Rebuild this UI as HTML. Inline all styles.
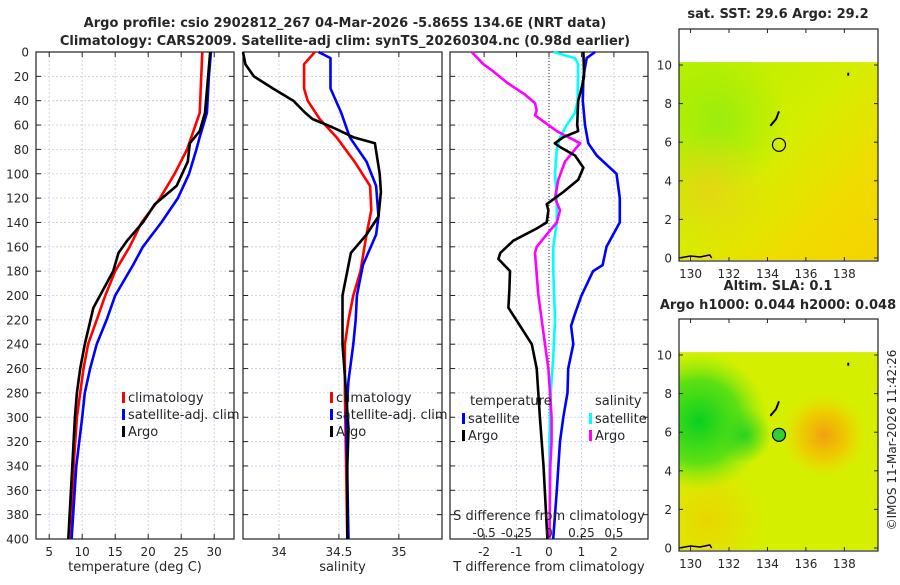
<!DOCTYPE html>
<html><head><meta charset="utf-8"><style>
body{margin:0;background:#fff}
svg text{font-family:"DejaVu Sans","Liberation Sans",sans-serif;fill:#262626}
</style></head><body>
<svg id="c" width="900" height="580" viewBox="0 0 900 580" xmlns="http://www.w3.org/2000/svg">
<defs>
<linearGradient id="sstg" x1="0" y1="0" x2="1" y2="1">
<stop offset="0" stop-color="#b4f000"/><stop offset="0.45" stop-color="#d4ee00"/><stop offset="0.75" stop-color="#f0dc00"/><stop offset="1" stop-color="#f4d400"/></linearGradient>
<radialGradient id="sstG" cx="0.2" cy="0.3" r="0.35"><stop offset="0" stop-color="#90ec10" stop-opacity="0.8"/><stop offset="1" stop-color="#90ec10" stop-opacity="0"/></radialGradient>
<radialGradient id="sstO" cx="0.15" cy="0.65" r="0.3"><stop offset="0" stop-color="#f0c820" stop-opacity="0.6"/><stop offset="1" stop-color="#f0c820" stop-opacity="0"/></radialGradient>
<radialGradient id="slaG" cx="0.1" cy="0.35" r="0.35"><stop offset="0" stop-color="#08d020"/><stop offset="0.6" stop-color="#40dc18" stop-opacity="0.8"/><stop offset="1" stop-color="#80e810" stop-opacity="0"/></radialGradient>
<radialGradient id="slaG2" cx="0.33" cy="0.42" r="0.14"><stop offset="0" stop-color="#20d020" stop-opacity="0.9"/><stop offset="1" stop-color="#40d820" stop-opacity="0"/></radialGradient>
<radialGradient id="slaO" cx="0.73" cy="0.42" r="0.22"><stop offset="0" stop-color="#f0a010"/><stop offset="0.5" stop-color="#f4c000" stop-opacity="0.8"/><stop offset="1" stop-color="#f0d800" stop-opacity="0"/></radialGradient>
<radialGradient id="slaY" cx="0.15" cy="0.85" r="0.3"><stop offset="0" stop-color="#f0d000" stop-opacity="0.8"/><stop offset="1" stop-color="#f0d000" stop-opacity="0"/></radialGradient>
</defs>
</svg>
<script>
// ---- data ----
const depthRed=[0,50,80,100,120,140,160,180,200,220,240,260,280,300,340,400];
const tempClim=[28.2,27.8,25.9,24,21.8,19,17.2,15,13.5,12.2,10.9,10.2,9.7,9.2,8.7,8.3];
const depthBlue=[0,20,50,70,80,100,120,140,160,175,200,220,240,260,280,300,340,400];
const tempSat=[29.5,29.2,28.9,27.8,27.3,26.2,24.5,22,19.2,17.7,15,13.7,12.2,11.2,10.4,10,9.1,8.4];
const depthArgoT=[0,50,65,75,90,110,125,140,155,165,180,210,240,260,280,300,340,400];
const tempArgo=[29.4,28.6,27.8,26.3,26,24.3,21,19.2,16.8,15.5,14.7,11.7,10.4,9.7,9.2,8.9,8.5,7.9];
const depthSRed=[0,10,30,40,55,70,90,110,130,150,180,200,220,240,280,400];
const salClim=[34.30,34.21,34.21,34.24,34.34,34.48,34.63,34.76,34.77,34.73,34.68,34.62,34.58,34.55,34.55,34.57];
const depthSBlue=[0,5,30,50,70,90,110,135,150,175,200,220,240,270,300,400];
const salSat=[34.33,34.43,34.43,34.52,34.59,34.73,34.81,34.83,34.81,34.70,34.65,34.64,34.62,34.58,34.56,34.58];
const depthSArgo=[0,10,20,30,40,50,55,62,70,75,100,115,135,150,165,200,240,280,310,340,400];
const salArgo=[33.70,33.72,33.79,33.95,34.12,34.22,34.28,34.45,34.62,34.80,34.84,34.85,34.83,34.73,34.60,34.53,34.53,34.56,34.58,34.57,34.57];
const dTsatDepth=[0,5,20,40,60,75,85,100,120,140,160,175,180,200,215,225,240,260,280,300,320,340,360,400];
const dTsat=[1.42,1.16,1.06,1.04,1.11,1.21,1.47,2.08,2.18,2.18,1.77,1.65,1.36,1.0,0.8,0.68,0.75,0.59,0.57,0.44,0.34,0.29,0.24,0.13];
const dTargoDepth=[0,20,30,40,60,65,70,75,78,85,95,105,115,125,130,140,145,155,165,170,180,195,210,225,240,260,300,340,400];
const dTargo=[1.06,1.08,1.0,0.9,0.87,0.9,0.44,0.18,0.34,0.8,1.06,0.9,0.44,-0.07,-0.02,-0.07,-0.38,-1.1,-1.5,-1.56,-1.2,-1.22,-1.25,-0.89,-0.53,-0.38,-0.28,-0.17,-0.05];
const dSsatDepth=[0,5,10,40,50,60,70,80,100,120,140,160,180,220,250,280,320,400];
const dSsat=[0.033,0.2,0.225,0.22,0.2,0.136,0.085,0.06,0.046,0.06,0.06,0.033,0.033,0.046,0.033,0.013,0.003,0.008];
const dSargoDepth=[0,10,15,25,35,42,48,52,65,75,80,90,105,120,130,140,150,160,165,200,240,260,300,320,340,400];
const dSargo=[-0.595,-0.505,-0.44,-0.326,-0.185,-0.108,-0.095,-0.108,0.06,0.24,0.2,0.123,0.072,0.046,0.085,0.06,-0.018,-0.095,-0.108,-0.082,-0.031,-0.005,0.02,0.02,0.01,0.003];
const depthTicks=[0,20,40,60,80,100,120,140,160,180,200,220,240,260,280,300,320,340,360,380,400];
const tempTicks=[5,10,15,20,25,30];
const salTicks=[34,34.5,35];
const salTickLabels=["34","34.5","35"];
const dTTicks=[-2,-1,0,1,2];
const dSTicks=[-0.5,-0.25,0,0.25,0.5];
const dSTickLabels=["-0.5","-0.25","0","0.25","0.5"];
const latTicks=[0,2,4,6,8,10];
const lonTicks=[130,132,134,136,138];
const argoLon=134.6, argoLat=5.865;

// ---- helpers ----
const svg=document.getElementById('c');
const NS='http://www.w3.org/2000/svg';
function mk(tag,attrs,parent){const e=document.createElementNS(NS,tag);for(const k in attrs)e.setAttribute(k,attrs[k]);(parent||svg).appendChild(e);return e;}
function txt(x,y,s,size,anchor,weight,parent){const t=mk('text',{x:x,y:y,'font-size':size,'text-anchor':anchor||'middle','font-weight':weight||'normal'},parent);t.textContent=s;return t;}
const Y0=52,Y1=539;
const yD=d=>Y0+d/400*(Y1-Y0);
function lin(d0,d1,r0,r1){return v=>r0+(v-d0)/(d1-d0)*(r1-r0);}

// ---- titles ----
let t1=txt(345,27,'Argo profile: csio 2902812_267 04-Mar-2026 -5.865S 134.6E (NRT data)',13,'middle','bold');


let t2=txt(345,45,'Climatology: CARS2009. Satellite-adj clim: synTS_20260304.nc (0.98d earlier)',13,'middle','bold');



function panel(name,x0,x1,xs,xticks,xlabels,xtitle,showDepth){
  const g=mk('g',{});
  
  
  depthTicks.forEach(d=>{mk('line',{x1:x0,x2:x1,y1:yD(d),y2:yD(d),stroke:'#c4cce6','stroke-width':0.8,'stroke-dasharray':'2,2'},g);
    mk('line',{x1:x0,x2:x0+5,y1:yD(d),y2:yD(d),stroke:'#222'},g);mk('line',{x1:x1-5,x2:x1,y1:yD(d),y2:yD(d),stroke:'#222'},g);
    if(showDepth)txt(29,yD(d)+4.5,String(d),12,'end',null,g);});
  xticks.forEach((v,i)=>{const x=xs(v);mk('line',{x1:x,x2:x,y1:Y0,y2:Y1,stroke:'#c4cce6','stroke-width':0.8,'stroke-dasharray':'2,2'},g);
    mk('line',{x1:x,x2:x,y1:Y1-5,y2:Y1,stroke:'#222'},g);mk('line',{x1:x,x2:x,y1:Y0,y2:Y0+5,stroke:'#222'},g);
    if(xlabels)txt(x,556,xlabels[i],12,'middle',null,g);});
  mk('rect',{x:x0,y:Y0,width:x1-x0,height:Y1-Y0,fill:'none',stroke:'#222','stroke-width':1.2},g);
  if(xtitle)txt((x0+x1)/2,571,xtitle,13,'middle',null,g);
  return g;
}
function line(g,name,xs,vals,depths,color,w,scale){
  const pts=vals.map((v,i)=>xs(v*(scale||1)).toFixed(1)+','+yD(depths[i]).toFixed(1)).join(' ');
  const p=mk('polyline',{points:pts,fill:'none',stroke:color,'stroke-width':w||2.6,'stroke-linejoin':'round'},g);
  
  
}
function legend(g,x,y,items){items.forEach((it,i)=>{mk('rect',{x:x,y:y+i*17-9,width:3,height:11,fill:it[1]},g);txt(x+6,y+i*17+1,it[0],13,'start',null,g);});}

// Panel 1 temperature
const xT=lin(3,33,36,234);
const p1=panel('temperature-panel',36,234,xT,tempTicks,tempTicks.map(String),'temperature (deg C)',true);
line(p1,'temp-climatology-line',xT,tempClim,depthRed,'#ff0000');
line(p1,'temp-satellite-line',xT,tempSat,depthBlue,'#0000ff');
line(p1,'temp-argo-line',xT,tempArgo,depthArgoT,'#000000');
legend(p1,122,401,[['climatology','#ff0000'],['satellite-adj. clim','#0000ff'],['Argo','#000']]);

// Panel 2 salinity
const xS=lin(33.7,35.36,243,442);
const p2=panel('salinity-panel',243,442,xS,salTicks,salTickLabels,'salinity',false);
line(p2,'sal-climatology-line',xS,salClim,depthSRed,'#ff0000');
line(p2,'sal-satellite-line',xS,salSat,depthSBlue,'#0000ff');
line(p2,'sal-argo-line',xS,salArgo,depthSArgo,'#000000');
legend(p2,330,401,[['climatology','#ff0000'],['satellite-adj. clim','#0000ff'],['Argo','#000']]);

// Panel 3 differences
const xD=lin(-3.05,3.05,450,648);
const p3=panel('difference-panel',450,648,xD,dTTicks,dTTicks.map(String),'T difference from climatology',false);
mk('line',{x1:xD(0),x2:xD(0),y1:Y0,y2:Y1,stroke:'#333','stroke-width':1,'stroke-dasharray':'1,2'},p3);
line(p3,'dT-satellite-line',xD,dTsat,dTsatDepth,'#0000ff');
line(p3,'dS-satellite-line',xD,dSsat,dSsatDepth,'#00ffff',2.6,4);
line(p3,'dS-argo-line',xD,dSargo,dSargoDepth,'#ff00ff',2.6,4);
line(p3,'dT-argo-line',xD,dTargo,dTargoDepth,'#000000');
txt(470,405,'temperature',13,'start',null,p3);
txt(595,405,'salinity',13,'start',null,p3);
legend(p3,462,422,[['satellite','#0000ff'],['Argo','#000']]);
legend(p3,589,422,[['satellite','#00ffff'],['Argo','#ff00ff']]);
txt(549,520,'S difference from climatology',13,'middle',null,p3);
dSTicks.forEach((v,i)=>txt(xD(v*4),537,dSTickLabels[i],12,'middle',null,p3));

// Maps
const xL=lin(129.4,139.75,679,878);
function map(name,top,fills,title,title2){
  const g=mk('g',{});
  
  
  const yb=top+229, yLat=v=>yb-v*19.3;
  const dy=yLat(10.15);
  fills.forEach(f=>mk('rect',{x:679,y:dy,width:199,height:yb+2-dy,fill:f},g));
  // islands
  mk('path',{d:`M${xL(134.15)},${yLat(6.85)} L${xL(134.45)},${yLat(7.2)} L${xL(134.6)},${yLat(7.6)}`,stroke:'#000','stroke-width':2,fill:'none'},g);
  mk('rect',{x:xL(138.15),y:yLat(9.6),width:2,height:3,fill:'#000'},g);
  mk('path',{d:`M679,${yb} L${xL(130)},${yb-2} L${xL(130.5)},${yb-1} L${xL(131)},${yb-3} L${xL(131.1)},${yb}`,stroke:'#000','stroke-width':1.5,fill:'#f8c8a0'},g);
  const c=mk('circle',{cx:xL(argoLon),cy:yLat(argoLat),r:6.5,fill:name==='sla-map'?'#30d030':'none',stroke:'#000','stroke-width':1.2},g);
  
  
  mk('rect',{x:679,y:top,width:199,height:232,fill:'none',stroke:'#222','stroke-width':1.2},g);
  latTicks.forEach(v=>{const y=yLat(v);mk('line',{x1:679,x2:683,y1:y,y2:y,stroke:'#222'},g);mk('line',{x1:874,x2:878,y1:y,y2:y,stroke:'#222'},g);txt(672,y+4.5,String(v),12,'end',null,g);});
  lonTicks.forEach(v=>{const x=xL(v);mk('line',{x1:x,x2:x,y1:top+228,y2:top+232,stroke:'#222'},g);mk('line',{x1:x,x2:x,y1:top,y2:top+4,stroke:'#222'},g);txt(x,top+249,String(v),12,'middle',null,g);});
  txt(778,title2?top-29:top-11,title,13,'middle','bold',g);
  if(title2)txt(778,top-10,title2,13,'middle','bold',g);
}
map('sst-map',29,['url(#sstg)','url(#sstG)','url(#sstO)'],'sat. SST: 29.6 Argo: 29.2');
map('sla-map',319,['#d4f000','url(#slaY)','url(#slaO)','url(#slaG)','url(#slaG2)'],'Altim. SLA: 0.1','Argo h1000: 0.044 h2000: 0.048');
const cp=txt(0,0,'©IMOS 11-Mar-2026 11:42:26',12,'middle');
cp.setAttribute('transform','translate(896,440) rotate(-90)');


</script>
</body></html>
